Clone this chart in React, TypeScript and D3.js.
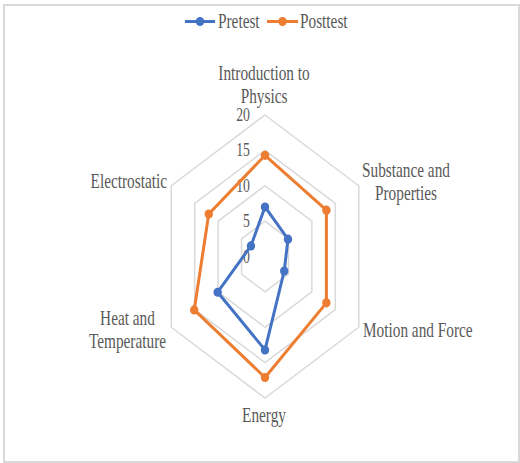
import React from "react";
import * as d3 from "d3";

const categories: string[][] = [
  ["Introduction to", "Physics"],
  ["Substance and", "Properties"],
  ["Motion and Force"],
  ["Energy"],
  ["Heat and", "Temperature"],
  ["Electrostatic"],
];
const pretest = [7, 4.9, 4.1, 13.2, 10.1, 3];
const posttest = [14.3, 13.1, 13.1, 17.1, 15.1, 12];
const ticks = [0, 5, 10, 15, 20];

const W = 520;
const H = 463;
const cx = 265;
const cy = 256.5;
const sx = 0.765; // horizontal condensation of the whole plot
const textColor = "#595959";
const gridColor = "#d9d9d9";
const font = "'Liberation Serif', 'Times New Roman', serif";

const r = d3.scaleLinear().domain([0, 20]).range([0, 141.5]);
const angle = d3
  .scaleLinear()
  .domain([0, categories.length])
  .range([0, 2 * Math.PI]);

const pt = (i: number, v: number): [number, number] => {
  const a = angle(i);
  return [cx + r(v) * Math.sin(a) * sx, cy - r(v) * Math.cos(a)];
};

const closedLine = d3
  .line<[number, number]>()
  .x((d) => d[0])
  .y((d) => d[1])
  .curve(d3.curveLinearClosed);

// label anchor positions: [x, first baseline, anchor]
const labelPos: [number, number, string][] = [
  [264, 80, "middle"],
  [406, 177, "middle"],
  [363, 337, "start"],
  [264, 421.5, "middle"],
  [127.5, 325, "middle"],
  [167, 188, "end"],
];

const series = [
  { name: "Pretest", values: pretest, color: "#4472C4" },
  { name: "Posttest", values: posttest, color: "#ED7D31" },
];

const legendPos = [
  { x0: 185, x1: 215, tx: 218 },
  { x0: 267, x1: 298, tx: 300 },
];

export default function App() {
  return (
    <svg
      width={W}
      height={H}
      style={{ position: "absolute", left: 0, top: 0, background: "#fff" }}
    >
      <rect x={4} y={5} width={515} height={457} fill="#fff" stroke={gridColor} strokeWidth={2} />

      {/* grid rings */}
      {ticks.slice(1).map((t) => (
        <path
          key={t}
          d={closedLine(categories.map((_, i) => pt(i, t))) || ""}
          fill="none"
          stroke={gridColor}
          strokeWidth={1.5}
        />
      ))}

      {/* tick labels */}
      {ticks.map((t) => (
        <text
          key={t}
          transform={`translate(250,${cy - r(t) + 6}) scale(${sx},1)`}
          textAnchor="end"
          fontFamily={font}
          fontSize={18}
          fill={textColor}
        >
          {t}
        </text>
      ))}

      {/* series */}
      {series.map((s) => (
        <g key={s.name}>
          <path
            d={closedLine(s.values.map((v, i) => pt(i, v))) || ""}
            fill="none"
            stroke={s.color}
            strokeWidth={3}
            strokeLinejoin="round"
          />
          {s.values.map((v, i) => {
            const [x, y] = pt(i, v);
            return <ellipse key={i} cx={x} cy={y} rx={4.2} ry={4.6} fill={s.color} />;
          })}
        </g>
      ))}

      {/* category labels */}
      {categories.map((lines, i) => {
        const [x, y, anchor] = labelPos[i];
        return lines.map((ln, j) => (
          <text
            key={`${i}-${j}`}
            transform={`translate(${x},${y + j * 23}) scale(${sx},1)`}
            textAnchor={anchor as any}
            fontFamily={font}
            fontSize={20}
            fill={textColor}
          >
            {ln}
          </text>
        ));
      })}

      {/* legend */}
      {series.map((s, i) => {
        const p = legendPos[i];
        return (
          <g key={s.name}>
            <line x1={p.x0} x2={p.x1} y1={21.5} y2={21.5} stroke={s.color} strokeWidth={3} />
            <ellipse cx={(p.x0 + p.x1) / 2} cy={21.5} rx={4.2} ry={4.6} fill={s.color} />
            <text
              transform={`translate(${p.tx},28) scale(${sx},1)`}
              fontFamily={font}
              fontSize={20}
              fill={textColor}
            >
              {s.name}
            </text>
          </g>
        );
      })}
    </svg>
  );
}
